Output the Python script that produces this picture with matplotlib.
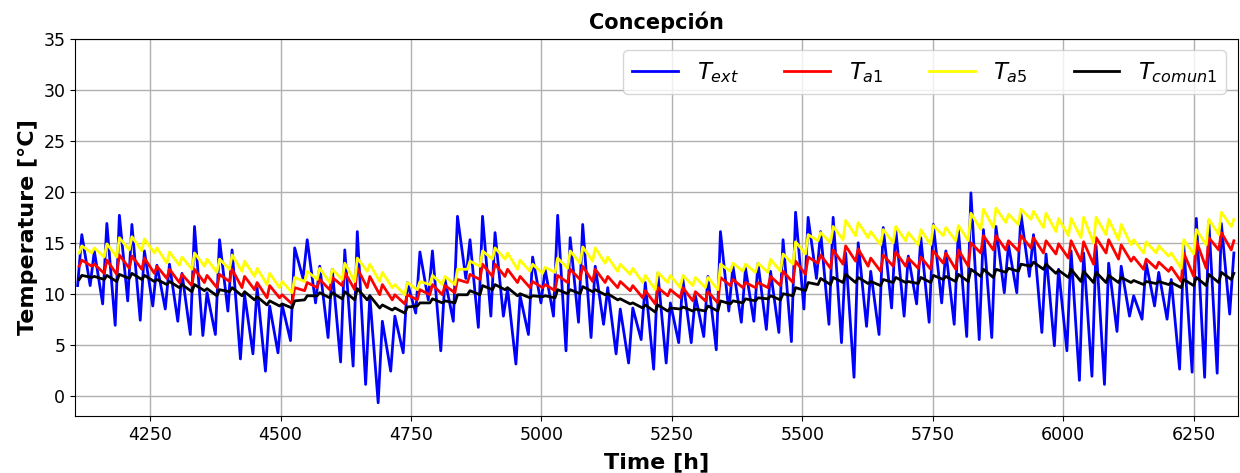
import numpy as np
import matplotlib.pyplot as plt

# first hour of the plotted period (day 171 of the year)
start_hour = 4104

# outdoor temperature: daily minimum (early morning) and maximum (afternoon)
text_min = [10.8, 10.8, 9.0, 6.9, 9.3, 7.4, 8.8, 8.5, 7.3, 6.0,
            5.9, 6.0, 8.3, 3.6, 4.1, 2.4, 4.2, 5.4, 11.5, 9.1,
            5.7, 3.3, 2.9, 1.1, -0.7, 2.4, 4.2, 8.1, 9.4, 4.4,
            7.3, 11.5, 6.7, 7.8, 7.8, 3.1, 6.0, 9.1, 7.8, 4.4,
            7.2, 5.7, 7.0, 4.1, 3.2, 5.5, 2.6, 3.2, 5.2, 5.2,
            5.8, 4.5, 8.3, 7.2, 7.3, 6.5, 6.2, 5.3, 8.5, 11.5,
            7.0, 5.2, 1.8, 6.8, 6.0, 8.6, 7.8, 9.0, 7.2, 9.1,
            7.0, 5.8, 5.5, 5.7, 10.1, 10.1, 11.7, 6.2, 4.9, 4.4,
            1.5, 1.9, 1.1, 6.3, 7.8, 7.5, 8.8, 7.5, 2.6, 2.3,
            1.8, 2.2, 8.0]
text_max = [15.8, 14.2, 16.9, 17.7, 16.8, 14.2, 12.8, 12.9, 12.0, 16.6,
            10.1, 15.3, 14.3, 9.9, 10.6, 8.8, 8.9, 14.5, 15.3, 12.7,
            12.4, 14.3, 16.1, 9.8, 7.3, 7.8, 11.1, 14.1, 14.2, 11.4,
            17.6, 15.3, 17.6, 16.0, 10.5, 9.8, 13.6, 12.4, 17.7, 15.5,
            16.8, 12.7, 10.6, 8.5, 8.6, 11.1, 12.0, 9.1, 11.4, 9.8,
            11.7, 16.1, 12.7, 12.5, 13.0, 12.2, 15.3, 18.0, 17.5, 16.1,
            17.5, 14.0, 15.0, 12.2, 16.5, 16.3, 13.7, 15.5, 16.8, 14.2,
            16.3, 19.9, 16.3, 16.6, 14.8, 17.8, 15.8, 13.9, 12.4, 14.2,
            14.0, 14.7, 13.0, 12.7, 9.8, 13.0, 12.1, 11.4, 14.7, 17.4,
            17.1, 16.9, 14.0]

# zone a1
ta1_min = [12.7, 12.7, 12.0, 11.9, 12.5, 12.4, 12.0, 11.5, 11.1, 10.8,
           11.1, 10.6, 11.2, 10.6, 10.4, 9.6, 9.6, 9.0, 10.3, 10.6,
           10.4, 10.8, 10.4, 10.6, 9.9, 9.4, 9.0, 9.4, 9.9, 9.9,
           10.1, 11.1, 11.4, 11.7, 11.7, 11.1, 10.6, 10.6, 10.3, 11.1,
           11.4, 11.2, 11.1, 10.6, 10.3, 9.6, 9.0, 9.8, 9.6, 9.3,
           9.3, 9.1, 10.8, 10.6, 10.6, 10.6, 10.8, 11.1, 11.9, 13.0,
           12.5, 12.9, 13.2, 12.7, 12.2, 12.7, 12.7, 12.5, 12.4, 13.0,
           12.4, 12.7, 14.0, 14.3, 14.3, 14.2, 14.5, 14.0, 13.9, 13.5,
           13.2, 12.9, 14.0, 13.4, 13.2, 12.4, 12.5, 12.2, 11.2, 11.7,
           12.5, 14.3, 14.3]
ta1_max = [13.3, 12.9, 13.3, 13.8, 13.7, 13.5, 12.7, 12.4, 11.9, 12.4,
           11.8, 11.9, 12.4, 11.7, 11.1, 10.8, 9.9, 10.6, 11.1, 11.4,
           11.6, 12.1, 12.5, 11.7, 10.9, 9.9, 9.9, 10.4, 10.9, 10.8,
           11.4, 11.9, 12.9, 12.9, 12.4, 11.7, 11.2, 10.9, 11.8, 12.4,
           12.7, 12.4, 11.7, 11.2, 10.8, 10.3, 10.6, 10.4, 10.6, 10.2,
           10.2, 11.6, 11.4, 11.1, 11.1, 11.7, 12.2, 13.2, 13.6, 13.8,
           14.3, 14.7, 14.4, 13.5, 13.8, 14.1, 13.5, 13.6, 14.2, 14.0,
           14.3, 15.0, 15.7, 15.7, 15.2, 15.7, 15.5, 15.2, 14.9, 15.2,
           15.1, 15.5, 15.3, 14.8, 13.6, 13.4, 13.1, 12.6, 14.0, 15.2,
           15.5, 16.0, 15.2]

# zone a5
ta5_min = [14.0, 14.0, 13.6, 13.6, 14.3, 14.2, 14.0, 13.0, 12.8, 12.4,
           12.7, 12.1, 12.4, 12.2, 11.7, 10.9, 10.6, 10.1, 11.2, 11.4,
           11.1, 11.4, 11.2, 12.2, 11.2, 10.6, 9.9, 10.4, 10.9, 10.9,
           10.9, 12.4, 12.7, 13.4, 13.4, 12.4, 12.2, 12.0, 12.1, 12.5,
           13.0, 13.2, 13.0, 12.2, 11.9, 11.1, 10.4, 11.1, 10.6, 10.8,
           10.6, 10.4, 12.2, 12.2, 12.1, 12.1, 12.2, 12.9, 13.9, 15.2,
           15.0, 15.3, 15.7, 15.5, 14.8, 15.0, 15.2, 14.8, 14.8, 15.7,
           15.2, 15.2, 16.3, 16.5, 17.0, 16.8, 17.3, 16.5, 16.1, 15.7,
           15.5, 15.0, 15.8, 15.3, 14.8, 14.0, 14.0, 13.7, 12.5, 13.9,
           14.8, 15.8, 16.6]
ta5_max = [14.7, 14.5, 14.9, 15.5, 15.6, 15.4, 14.5, 14.1, 13.6, 14.0,
           13.4, 13.4, 13.8, 13.2, 12.5, 12.0, 11.2, 11.6, 12.2, 12.5,
           12.4, 13.0, 13.5, 12.9, 12.1, 10.9, 11.1, 11.2, 11.8, 11.7,
           12.4, 13.2, 14.2, 14.5, 14.0, 13.3, 12.9, 12.6, 13.5, 14.2,
           14.6, 14.5, 13.6, 12.9, 12.5, 11.8, 12.1, 11.8, 11.8, 11.6,
           11.6, 12.9, 13.0, 12.9, 13.0, 13.4, 13.9, 15.1, 15.8, 16.0,
           16.6, 17.2, 17.0, 16.1, 16.3, 16.6, 16.0, 16.3, 16.7, 16.5,
           16.7, 17.9, 18.3, 18.4, 17.8, 18.3, 18.1, 17.9, 17.4, 17.4,
           17.5, 17.5, 17.3, 16.8, 15.3, 15.1, 14.7, 14.0, 15.3, 16.3,
           17.3, 18.0, 17.3]

# common zone
tc_min = [11.4, 11.6, 11.4, 11.2, 11.5, 11.4, 11.2, 10.9, 10.6, 10.2,
          10.3, 9.8, 10.2, 9.8, 9.4, 8.9, 8.8, 8.6, 9.4, 9.8,
          9.6, 9.5, 9.4, 9.4, 8.6, 8.4, 8.1, 8.8, 9.1, 9.1,
          9.1, 9.9, 9.9, 10.4, 10.4, 9.8, 9.6, 9.7, 9.6, 10.0,
          10.0, 10.2, 9.9, 9.4, 9.0, 8.6, 8.2, 8.3, 8.5, 8.3,
          8.3, 8.3, 9.0, 9.1, 9.3, 9.5, 9.4, 9.8, 10.3, 10.9,
          10.9, 11.1, 11.1, 11.0, 10.8, 11.1, 11.1, 11.0, 11.1, 11.4,
          11.2, 11.2, 11.7, 11.6, 12.1, 12.2, 12.7, 12.4, 12.0, 11.6,
          11.2, 11.1, 11.1, 11.1, 11.1, 10.9, 11.0, 10.9, 10.6, 10.8,
          10.8, 11.1, 11.4]
tc_max = [11.8, 11.7, 11.8, 11.9, 12.0, 11.8, 11.4, 11.2, 10.9, 10.9,
          10.5, 10.4, 10.6, 10.2, 9.7, 9.3, 9.0, 9.3, 9.8, 10.1,
          10.1, 10.2, 10.5, 9.8, 8.9, 8.6, 8.7, 9.1, 9.5, 9.3,
          9.9, 10.3, 10.8, 10.9, 10.6, 10.0, 9.8, 9.8, 10.4, 10.4,
          10.7, 10.4, 10.0, 9.5, 9.1, 8.9, 8.9, 8.6, 8.7, 8.5,
          8.8, 9.3, 9.3, 9.5, 9.6, 9.8, 10.0, 10.6, 11.1, 11.5,
          11.6, 11.9, 11.6, 11.2, 11.4, 11.6, 11.2, 11.6, 11.8, 11.7,
          11.9, 12.4, 12.4, 12.4, 12.5, 12.9, 13.1, 12.9, 12.3, 12.4,
          12.2, 12.1, 11.8, 11.6, 11.3, 11.2, 11.2, 11.1, 11.4, 11.6,
          11.9, 12.1, 12.0]


def daily_series(lo, hi, h_lo, h_hi):
    # place each day's low and high at their hour of the day
    days = start_hour + 24 * np.arange(len(lo))
    t = np.column_stack([days + h_lo, days + h_hi]).ravel()
    v = np.column_stack([lo, hi]).ravel()
    return t, v


fig = plt.figure(figsize=(12.4, 4.73), dpi=100)
ax = fig.add_axes([0.0605, 0.1205, 0.9375, 0.797])

t, v = daily_series(text_min, text_max, 7, 15)
ax.plot(t, v, color='blue', lw=2, label=r'$T_{ext}$')
t, v = daily_series(ta1_min, ta1_max, 10, 15)
ax.plot(t, v, color='red', lw=2, label=r'$T_{a1}$')
t, v = daily_series(ta5_min, ta5_max, 10, 15)
ax.plot(t, v, color='yellow', lw=2, label=r'$T_{a5}$')
t, v = daily_series(tc_min, tc_max, 10, 15)
ax.plot(t, v, color='black', lw=2, label=r'$T_{comun1}$')

ax.set_xlim(4106, 6334)
ax.set_ylim(-2, 35)
ax.set_xticks(np.arange(4250, 6300, 250))
ax.set_yticks(np.arange(0, 36, 5))
ax.tick_params(labelsize=12.5)
ax.grid(True, color='#b0b0b0', lw=1)

ax.set_title('Concepción', fontsize=15, fontweight='bold', pad=7)
ax.set_xlabel('Time [h]', fontsize=16, fontweight='bold', labelpad=6)
ax.set_ylabel('Temperature [°C]', fontsize=16, fontweight='bold')
ax.legend(loc='upper right', ncol=4, fontsize=16.5)

plt.savefig('out.png')
